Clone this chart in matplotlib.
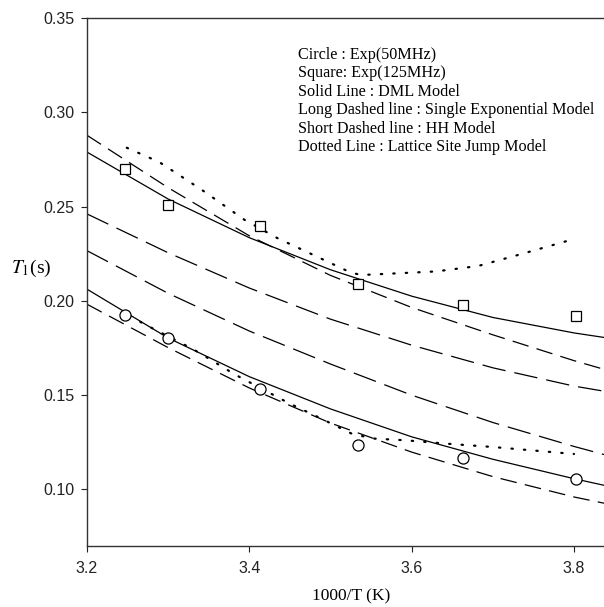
import matplotlib
matplotlib.use("Agg")
import matplotlib.pyplot as plt

plt.rcParams['lines.scale_dashes'] = False
plt.rcParams['mathtext.fontset'] = 'stix'

# experimental points, 1000/T
x_exp = [3.247, 3.300, 3.413, 3.534, 3.663, 3.802]
t1_125 = [0.270, 0.251, 0.2397, 0.209, 0.198, 0.192]
t1_50 = [0.1924, 0.1805, 0.153, 0.1238, 0.1167, 0.1057]

# model curves
x_mod = [3.2, 3.3, 3.4, 3.5, 3.6, 3.7, 3.8, 3.837]
dml_125 = [0.2789, 0.2540, 0.2335, 0.2165, 0.2025, 0.1912, 0.1830, 0.1806]
dml_50 = [0.2062, 0.1803, 0.1598, 0.1427, 0.1279, 0.1160, 0.1057, 0.1022]
hh_125 = [0.2878, 0.2600, 0.2345, 0.2135, 0.1965, 0.1820, 0.1683, 0.1637]
hh_50 = [0.1982, 0.1752, 0.1538, 0.1352, 0.1198, 0.1068, 0.0960, 0.0927]
sexp_a = [0.2461, 0.2255, 0.2068, 0.1903, 0.1765, 0.1645, 0.1548, 0.1521]
sexp_b = [0.2266, 0.2040, 0.1840, 0.1665, 0.1500, 0.1355, 0.1228, 0.1185]

# lattice site jump model (dotted)
x_lat125 = [3.249, 3.289, 3.341, 3.394, 3.434, 3.487, 3.525, 3.538, 3.577, 3.630, 3.682, 3.735, 3.800]
lat_125 = [0.2812, 0.2736, 0.2590, 0.2430, 0.2334, 0.2227, 0.2150, 0.2137, 0.2145, 0.2156, 0.2185, 0.2248, 0.2328]
x_lat50 = [3.252, 3.275, 3.331, 3.355, 3.382, 3.421, 3.448, 3.487, 3.526, 3.552, 3.591, 3.642, 3.700, 3.800]
lat_50 = [0.1920, 0.1867, 0.1743, 0.1681, 0.1610, 0.1521, 0.1459, 0.1379, 0.1296, 0.1270, 0.1261, 0.1243, 0.1225, 0.1188]

yticks = [0.10, 0.15, 0.20, 0.25, 0.30, 0.35]
xticks = [3.2, 3.4, 3.6, 3.8]

legend_lines = ["Circle : Exp(50MHz)",
                "Square: Exp(125MHz)",
                "Solid Line : DML Model",
                "Long Dashed line : Single Exponential Model",
                "Short Dashed line : HH Model",
                "Dotted Line : Lattice Site Jump Model"]

W, H = 604, 607
fig = plt.figure(figsize=(W / 100, H / 100), dpi=100)
ax = fig.add_axes([87 / W, 1 - 546 / H, 1 - 87 / W, (546 - 18) / H])

short = (0, (12, 6))
long_ = (0, (17, 6.5))
dots = (0, (1.0, 8))

ax.plot(x_mod, dml_125, color='black', lw=0.9)
ax.plot(x_mod, dml_50, color='black', lw=0.9)
ax.plot(x_mod, hh_125, color='black', lw=0.9, linestyle=short)
ax.plot(x_mod, hh_50, color='black', lw=0.9, linestyle=short)
ax.plot(x_mod, sexp_a, color='black', lw=0.9, linestyle=long_)
ax.plot(x_mod, sexp_b, color='black', lw=0.9, linestyle=long_)
ax.plot(x_lat125, lat_125, color='black', lw=1.6, linestyle=dots, dash_capstyle='round')
ax.plot(x_lat50, lat_50, color='black', lw=1.6, linestyle=dots, dash_capstyle='round')

ax.plot(x_exp, t1_125, 's', ms=7, mfc='white', mec='black', mew=0.9)
ax.plot(x_exp, t1_50, 'o', ms=8, mfc='white', mec='black', mew=0.9)

ax.set_xlim(3.2, 3.837)
ax.set_ylim(0.07, 0.35)
ax.set_xticks(xticks)
ax.set_yticks(yticks)
ax.set_xticklabels(['%.1f' % v for v in xticks])
ax.set_yticklabels(['%.2f' % v for v in yticks])
ax.tick_params(direction='out', length=4, width=0.8, colors='#222222',
               labelsize=11.5, top=False, right=False)
ax.tick_params(axis='x', pad=7)
ax.tick_params(axis='y', pad=5)
for lab in ax.get_xticklabels() + ax.get_yticklabels():
    lab.set_fontfamily('Liberation Sans')
ax.spines['right'].set_visible(False)
for s in ['left', 'bottom', 'top']:
    ax.spines[s].set_color('#333333')
    ax.spines[s].set_linewidth(1.0)

fig.text(351 / W, 1 - 596 / H, '1000/T (K)', ha='center', va='center',
         fontsize=12.5, family='Liberation Serif')
fig.text(31 / W, 1 - 268 / H, r'$T_1$(s)', ha='center', va='center',
         fontsize=14, family='Liberation Serif')

for i, line in enumerate(legend_lines):
    fig.text(298 / W, 1 - (55 + 18.4 * i) / H, line, ha='left', va='center',
             fontsize=11.6, family='Liberation Serif')

fig.savefig('out.png', dpi=100)
